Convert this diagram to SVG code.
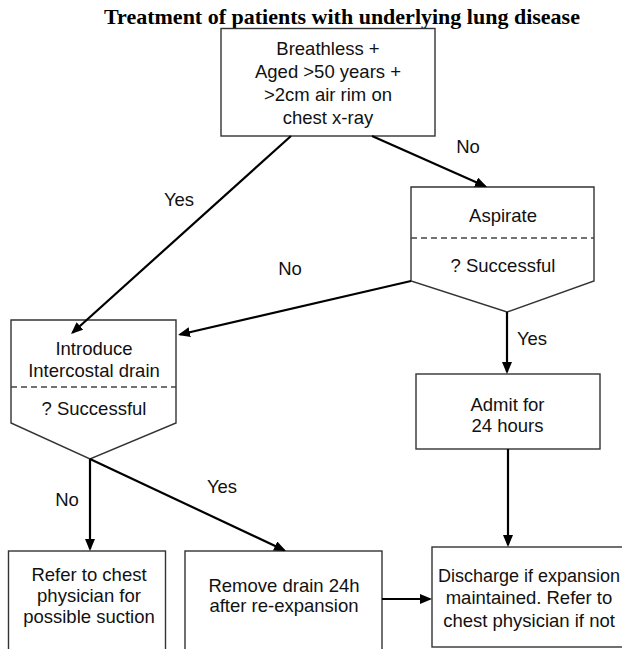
<svg xmlns="http://www.w3.org/2000/svg" width="622" height="649" viewBox="0 0 622 649">
  <style>
    .title { font-family: "Liberation Serif", "Times New Roman", serif; font-weight: bold; font-size: 22px; fill: #000; }
    .txt { font-family: "Liberation Sans", Arial, sans-serif; font-size: 18.5px; fill: #111; text-anchor: middle; }
    .sm { font-size: 18px; }
    .box { fill: #fff; stroke: #333; stroke-width: 1.4; }
    .dash { stroke: #444; stroke-width: 1.4; stroke-dasharray: 6 4; fill: none; }
    .conn { stroke: #000; stroke-width: 2.2; fill: none; }
  </style>
  <defs>
    <marker id="arrow" markerUnits="userSpaceOnUse" markerWidth="14" markerHeight="12" refX="10" refY="5" orient="auto">
      <path d="M0,0 L12,5 L0,10 Z" fill="#000"/>
    </marker>
  </defs>

  <rect width="622" height="649" fill="#fff"/>

  <text class="title" x="342" y="24" text-anchor="middle">Treatment of patients with underlying lung disease</text>

  <!-- nodes -->
  <g id="start">
    <rect class="box" x="221" y="28.5" width="214" height="107.5"/>
    <text class="txt" x="328" y="55">Breathless +</text>
    <text class="txt" x="328" y="78">Aged &gt;50 years +</text>
    <text class="txt" x="328" y="101">&gt;2cm air rim on</text>
    <text class="txt" x="328" y="124">chest x-ray</text>
  </g>

  <g id="aspirate">
    <path class="box" d="M411,187 L594,187 L594,281 L507,312 L411,281 Z"/>
    <line class="dash" x1="411" y1="238" x2="594" y2="238"/>
    <text class="txt" x="503" y="222">Aspirate</text>
    <text class="txt" x="503" y="272">? Successful</text>
  </g>

  <g id="drain">
    <path class="box" d="M11,320 L176,320 L176,423 L90,459 L11,423 Z"/>
    <line class="dash" x1="11" y1="387" x2="176" y2="387"/>
    <text class="txt" x="94" y="355">Introduce</text>
    <text class="txt" x="94" y="377">Intercostal drain</text>
    <text class="txt" x="94" y="415">? Successful</text>
  </g>

  <g id="admit">
    <rect class="box" x="416" y="374" width="184" height="75"/>
    <text class="txt" x="507.5" y="410.5">Admit for</text>
    <text class="txt" x="507.5" y="431.5">24 hours</text>
  </g>

  <g id="refer">
    <rect class="box" x="8.5" y="551" width="157" height="110"/>
    <text class="txt" x="89" y="580.5">Refer to chest</text>
    <text class="txt" x="89" y="601.5">physician for</text>
    <text class="txt" x="89" y="623">possible suction</text>
  </g>

  <g id="remove">
    <rect class="box" x="185" y="551" width="197" height="110"/>
    <text class="txt" x="284" y="591.5">Remove drain 24h</text>
    <text class="txt" x="284" y="611.5">after re-expansion</text>
  </g>

  <g id="discharge">
    <rect class="box" x="432" y="547" width="196" height="100"/>
    <text class="txt sm" x="529" y="581.5">Discharge if expansion</text>
    <text class="txt" x="529" y="604">maintained. Refer to</text>
    <text class="txt" x="529" y="626.5">chest physician if not</text>
  </g>

  <!-- connectors, drawn last so arrowheads sit on top of the shapes -->
  <g id="connectors">
    <line class="conn" x1="291" y1="136" x2="72.5" y2="332.7" marker-end="url(#arrow)"/>
    <line class="conn" x1="372" y1="136" x2="485.2" y2="186.2" marker-end="url(#arrow)"/>
    <line class="conn" x1="411" y1="281" x2="180" y2="334.5" marker-end="url(#arrow)"/>
    <line class="conn" x1="507" y1="312" x2="507" y2="372" marker-end="url(#arrow)"/>
    <line class="conn" x1="508" y1="449" x2="508" y2="545" marker-end="url(#arrow)"/>
    <line class="conn" x1="90" y1="459" x2="90" y2="549" marker-end="url(#arrow)"/>
    <line class="conn" x1="90" y1="459" x2="284.2" y2="550.2" marker-end="url(#arrow)"/>
    <line class="conn" x1="382" y1="599" x2="430" y2="599" marker-end="url(#arrow)"/>
    <text class="txt" x="179" y="206">Yes</text>
    <text class="txt" x="468" y="153">No</text>
    <text class="txt" x="290" y="275">No</text>
    <text class="txt" x="532" y="345">Yes</text>
    <text class="txt" x="67" y="506">No</text>
    <text class="txt" x="222" y="493">Yes</text>
  </g>
</svg>
